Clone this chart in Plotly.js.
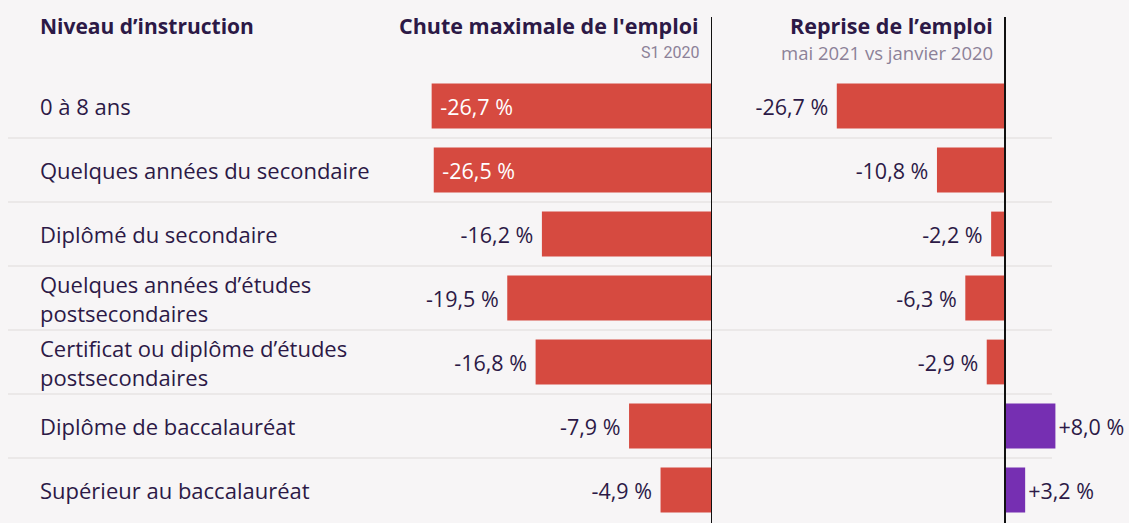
<!DOCTYPE html>
<html><head><meta charset="utf-8">
<script src="https://cdn.plot.ly/plotly-3.0.1.min.js"></script>
<style>html,body{margin:0;padding:0;background:#f7f5f6;}</style>
</head><body>
<div id="chart" style="width:1129px;height:523px;"></div>
<script>
const categories = [
  "0 à 8 ans",
  "Quelques années du secondaire",
  "Diplômé du secondaire",
  "Quelques années d’études<br>postsecondaires",
  "Certificat ou diplôme d’études<br>postsecondaires",
  "Diplôme de baccalauréat",
  "Supérieur au baccalauréat"
];
const chuteMax = [-26.7, -26.5, -16.2, -19.5, -16.8, -7.9, -4.9];
const reprise = [-26.7, -10.8, -2.2, -6.3, -2.9, 8.0, 3.2];
const headerLeft = "Niveau d’instruction";
const headerMid = "Chute maximale de l'emploi";
const subMid = "S1 2020";
const headerRight = "Reprise de l’emploi";
const subRight = "mai 2021 vs janvier 2020";

const W = 1129, H = 523;
const RED = "#d64a40", PURPLE = "#762fb2", DARK = "#2c1946", GREY = "#8c8198";
const FONT = "Open Sans";
const VSIZE = 21.5;
const NB = "\u00a0";
const fmt = v => (v > 0 ? "+" : "") + v.toFixed(1).replace(".", ",") + NB + "%";
const idx = categories.map((c, i) => i);

const insideLeft = chuteMax.map(v => v <= -26);
const t1 = {
  type: "bar", orientation: "h", x: chuteMax, y: idx, xaxis: "x", yaxis: "y",
  marker: {color: RED}, width: 0.7,
  text: chuteMax.map((v, i) => insideLeft[i] ? NB + fmt(v) : fmt(v) + NB),
  textposition: insideLeft.map(b => b ? "inside" : "outside"),
  insidetextanchor: "end",
  insidetextfont: {color: "#ffffff", size: VSIZE, family: FONT},
  outsidetextfont: {color: DARK, size: VSIZE, family: FONT},
  textfont: {size: VSIZE, family: FONT},
  cliponaxis: false, hoverinfo: "none", constraintext: "none"
};
const t2 = {
  type: "bar", orientation: "h", x: reprise, y: idx, xaxis: "x2", yaxis: "y",
  marker: {color: reprise.map(v => v < 0 ? RED : PURPLE)}, width: 0.7,
  text: reprise.map(v => v < 0 ? fmt(v) + NB : fmt(v)), textposition: "outside",
  outsidetextfont: {color: DARK, size: VSIZE, family: FONT},
  textfont: {size: VSIZE, family: FONT},
  cliponaxis: false, hoverinfo: "none", constraintext: "none"
};

const plotTop = 74, plotBottom = 522, ph = plotBottom - plotTop;
const py = yy => 1 + (plotTop - yy) / ph;

const shapes = [];
for (let i = 0; i < categories.length - 1; i++) {
  shapes.push({type: "line", xref: "paper", yref: "y", x0: 8 / W, x1: 1052 / W,
    y0: i + 0.5, y1: i + 0.5, line: {color: "#e7e3e3", width: 1.5}, layer: "below"});
}
shapes.push({type: "line", xref: "x", yref: "paper", x0: 0, x1: 0, y0: -0.01, y1: py(17), line: {color: "#111111", width: 2}});
shapes.push({type: "line", xref: "x2", yref: "paper", x0: 0, x1: 0, y0: -0.01, y1: py(17), line: {color: "#111111", width: 2}});

const annotations = categories.map((c, i) => ({
  xref: "paper", yref: "y", x: 38 / W, y: i, xanchor: "left", yanchor: "middle",
  text: c, align: "left", showarrow: false,
  font: {family: FONT, size: 22, color: DARK}
}));
annotations.push({xref: "paper", yref: "paper", x: 38 / W, y: py(26), xanchor: "left", yanchor: "middle",
  text: "<b>" + headerLeft + "</b>", showarrow: false, font: {family: FONT, size: 21, color: DARK}});
annotations.push({xref: "paper", yref: "paper", x: 701 / W, y: py(26), xanchor: "right", yanchor: "middle",
  text: "<b>" + headerMid + "</b>", showarrow: false, font: {family: FONT, size: 21.5, color: DARK}});
annotations.push({xref: "paper", yref: "paper", x: 701 / W, y: py(52), xanchor: "right", yanchor: "middle",
  text: subMid, showarrow: false, font: {family: "Roboto", size: 16, color: GREY}});
annotations.push({xref: "paper", yref: "paper", x: 995 / W, y: py(26), xanchor: "right", yanchor: "middle",
  text: "<b>" + headerRight + "</b>", showarrow: false, font: {family: FONT, size: 21.5, color: DARK}});
annotations.push({xref: "paper", yref: "paper", x: 995 / W, y: py(52), xanchor: "right", yanchor: "middle",
  text: subRight, showarrow: false, font: {family: FONT, size: 18.5, color: GREY}});

const layout = {
  width: W, height: H,
  margin: {l: 0, r: 0, t: plotTop, b: H - plotBottom, pad: 0},
  paper_bgcolor: "#f7f5f6", plot_bgcolor: "rgba(0,0,0,0)",
  showlegend: false, bargap: 0.3,
  font: {family: FONT, color: DARK},
  xaxis: {domain: [292 / W, 712 / W], range: [-40, 0], visible: false, fixedrange: true},
  xaxis2: {domain: [816 / W, 1068 / W], range: [-30, 10], visible: false, fixedrange: true, anchor: "y"},
  yaxis: {range: [categories.length - 0.5, -0.5], visible: false, fixedrange: true},
  shapes: shapes, annotations: annotations
};
Plotly.newPlot("chart", [t1, t2], layout, {displayModeBar: false, staticPlot: true});
</script>
</body></html>
